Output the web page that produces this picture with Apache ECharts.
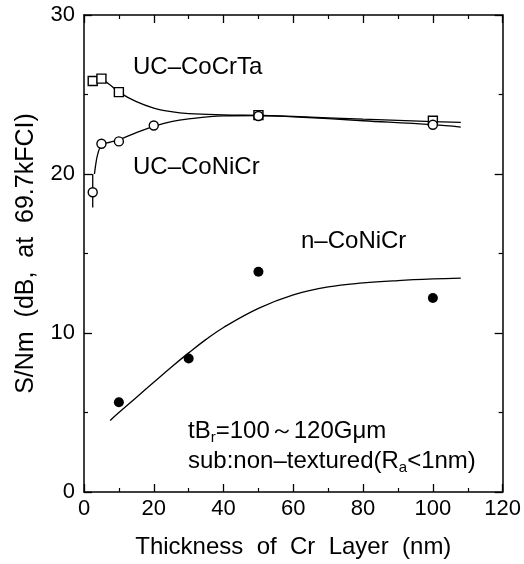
<!DOCTYPE html>
<html>
<head>
<meta charset="utf-8">
<script src="https://cdn.jsdelivr.net/npm/echarts@6/dist/echarts.min.js"></script>
<style>
  html, body { margin: 0; padding: 0; background: #fff; }
  #chart { width: 524px; height: 564px; }
</style>
</head>
<body>
<div id="chart"></div>
<script>
const coCrTaX = [2.5, 5, 10, 50, 100];
const coCrTaY = [25.85, 26.0, 25.15, 23.7, 23.35];

const ucCoNiCrX = [2.5, 5, 10, 20, 50, 100];
const ucCoNiCrY = [18.85, 21.9, 22.05, 23.05, 23.65, 23.1];

const nCoNiCrX = [10, 30, 50, 100];
const nCoNiCrY = [5.65, 8.4, 13.85, 12.2];

// error bar on the thinnest UC-CoNiCr point
const errX = [2.5, 2.5];
const errY = [17.9, 20.0];

// hand-drawn guide curves
const coCrTaFitX = [5, 7.5, 10, 15, 20, 25, 30, 40, 50, 60, 80, 100, 108];
const coCrTaFitY = [26.0, 25.6, 25.15, 24.55, 24.15, 23.92, 23.8, 23.72, 23.68, 23.62, 23.45, 23.3, 23.25];

const ucFitX = [3, 3.5, 4, 5, 7.5, 10, 15, 20, 25, 30, 40, 50, 60, 80, 100, 108];
const ucFitY = [20.0, 20.8, 21.3, 21.8, 22.0, 22.15, 22.6, 23.0, 23.3, 23.47, 23.65, 23.68, 23.6, 23.35, 23.1, 22.95];

const nFitX = [7.5, 10, 15, 20, 25, 30, 35, 40, 50, 60, 70, 80, 90, 100, 108];
const nFitY = [4.5, 5.0, 5.95, 6.9, 7.85, 8.75, 9.6, 10.35, 11.55, 12.4, 12.9, 13.15, 13.3, 13.4, 13.45];

const xTicks = [0, 20, 40, 60, 80, 100, 120];
const yTicks = [0, 10, 20, 30];

const FONT = '"Liberation Sans", Arial, Helvetica, sans-serif';

function zip(xs, ys) {
    return xs.map((x, i) => [x, ys[i]]);
}

function fitLine(xs, ys) {
    return {
        type: 'line',
        data: zip(xs, ys),
        smooth: 0.4,
        showSymbol: false,
        silent: true,
        lineStyle: { color: '#000', width: 1.3 },
        z: 2,
    };
}

function scatter(xs, ys, symbol, filled, size) {
    return {
        type: 'scatter',
        data: zip(xs, ys),
        symbol: symbol,
        symbolSize: size,
        itemStyle: {
            color: filled ? '#000' : '#fff',
            borderColor: '#000',
            borderWidth: filled ? 0 : 1.4,
            opacity: 1,
        },
        z: 5,
    };
}

const axisCommon = {
    min: 0,
    axisLine: { show: true, onZero: false, lineStyle: { color: '#000', width: 1.5 } },
    axisTick: { show: true, inside: true, length: 8, lineStyle: { color: '#000', width: 1.3 } },
    minorTick: { show: true, splitNumber: 2, length: 4, lineStyle: { color: '#000', width: 1.2 } },
    splitLine: { show: false },
};

const chart = echarts.init(document.getElementById('chart'), null, { renderer: 'canvas' });

chart.setOption({
    animation: false,
    backgroundColor: '#fff',
    grid: { left: 84, right: 20, top: 15, bottom: 71 },
    xAxis: [
        Object.assign({}, axisCommon, {
            type: 'value',
            position: 'bottom',
            max: 120,
            interval: 20,
            axisLabel: {
                color: '#000', fontFamily: FONT, fontSize: 22, margin: 6,
                formatter: (v) => (xTicks.includes(v) ? String(v) : ''),
            },
            name: 'Thickness  of  Cr  Layer  (nm)',
            nameLocation: 'middle',
            nameGap: 43,
            nameTextStyle: { color: '#000', fontFamily: FONT, fontSize: 24 },
        }),
        Object.assign({}, axisCommon, {
            type: 'value',
            position: 'top',
            max: 120,
            interval: 20,
            axisLabel: { show: false },
        }),
    ],
    yAxis: [
        Object.assign({}, axisCommon, {
            type: 'value',
            position: 'left',
            max: 30,
            interval: 10,
            axisLabel: {
                color: '#000', fontFamily: FONT, fontSize: 22, margin: 9,
                formatter: (v) => (yTicks.includes(v) ? String(v) : ''),
            },
            name: 'S/Nm  (dB,  at  69.7kFCI)',
            nameLocation: 'middle',
            nameGap: 45,
            nameTextStyle: { color: '#000', fontFamily: FONT, fontSize: 25 },
        }),
        Object.assign({}, axisCommon, {
            type: 'value',
            position: 'right',
            max: 30,
            interval: 10,
            axisLabel: { show: false },
        }),
    ],
    series: [
        fitLine(coCrTaFitX, coCrTaFitY),
        fitLine(ucFitX, ucFitY),
        fitLine(nFitX, nFitY),
        {
            type: 'line',
            data: zip(errX, errY),
            showSymbol: false,
            silent: true,
            lineStyle: { color: '#000', width: 1.3 },
            z: 3,
        },
        scatter(coCrTaX, coCrTaY, 'rect', false, 9),
        scatter(ucCoNiCrX, ucCoNiCrY, 'circle', false, 9),
        scatter(nCoNiCrX, nCoNiCrY, 'circle', true, 10),
    ],
    graphic: [
        { type: 'text', left: 133, top: 55, style: { text: 'UC–CoCrTa', font: '24px ' + FONT, fill: '#000' } },
        { type: 'text', left: 133, top: 155, style: { text: 'UC–CoNiCr', font: '24px ' + FONT, fill: '#000' } },
        { type: 'text', left: 301, top: 229, style: { text: 'n–CoNiCr', font: '24px ' + FONT, fill: '#000' } },
        {
            type: 'text', left: 188, top: 418,
            style: {
                text: '{m|tB}{s|r}{m|=100～120Gμm}',
                rich: {
                    m: { fontFamily: FONT, fontSize: 24, fill: '#000', lineHeight: 28 },
                    s: { fontFamily: FONT, fontSize: 15, fill: '#000', lineHeight: 28, padding: [12, 0, 0, 0] },
                },
            },
        },
        {
            type: 'text', left: 188, top: 448,
            style: {
                text: '{m|sub:non–textured(R}{s|a}{m|<1nm)}',
                rich: {
                    m: { fontFamily: FONT, fontSize: 24, fill: '#000', lineHeight: 28 },
                    s: { fontFamily: FONT, fontSize: 15, fill: '#000', lineHeight: 28, padding: [12, 0, 0, 0] },
                },
            },
        },
    ],
});
</script>
</body>
</html>
